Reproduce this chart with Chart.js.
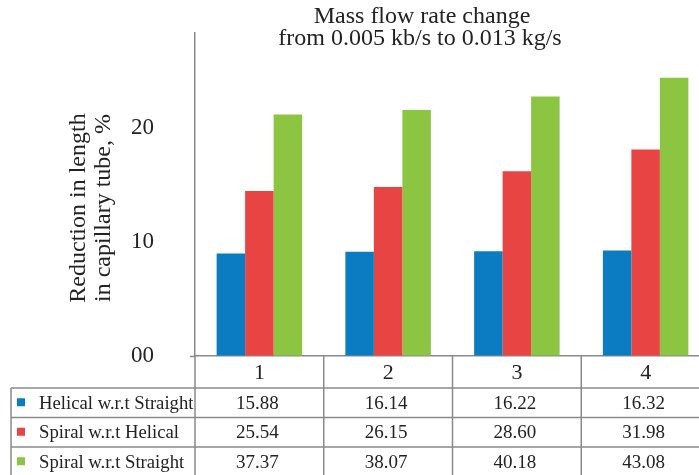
<!DOCTYPE html>
<html>
<head>
<meta charset="utf-8">
<script src="https://cdn.jsdelivr.net/npm/chart.js@4/dist/chart.umd.min.js"></script>
<style>
  html, body { margin: 0; padding: 0; background: #fff; overflow: hidden; }
  #wrap { width: 712px; height: 475px; }
</style>
</head>
<body>
<div id="wrap"><canvas id="c" width="712" height="475"></canvas></div>
<script>
// Mass flow rate cases
const categories = ['1', '2', '3', '4'];

// Reduction in capillary tube length, %
const helicalVsStraight = [15.88, 16.14, 16.22, 16.32];
const spiralVsHelical   = [25.54, 26.15, 28.60, 31.98];
const spiralVsStraight  = [37.37, 38.07, 40.18, 43.08];

const seriesNames = ['Helical w.r.t Straight', 'Spiral w.r.t Helical', 'Spiral w.r.t Straight'];
const seriesColors = ['#0b7cc2', '#e84444', '#8cc541'];

// Axis tick marks and the printed axis labels
const yTickMarks = [0, 10, 20, 30, 40, 50];
const yTickLabels = ['00', '10', '20'];
const yTickLabelValues = [0, 17.6, 35.3];

const titleLines = ['Mass flow rate change', 'from 0.005 kb/s to 0.013 kg/s'];
const yTitleLines = ['Reduction in length', 'in capillary tube, %'];

const SERIF = "'Liberation Serif', 'Times New Roman', serif";
const LINE = '#8a8a8a';
const TEXT = '#222';

const seriesData = [helicalVsStraight, spiralVsHelical, spiralVsStraight];

// Titles drawn over the plot
const titlesPlugin = {
  id: 'titles',
  afterDraw(chart) {
    const ctx = chart.ctx;
    ctx.save();
    ctx.fillStyle = TEXT;
    ctx.font = '24px ' + SERIF;
    ctx.textAlign = 'center';
    ctx.textBaseline = 'alphabetic';
    ctx.fillText(titleLines[0], 422, 23);
    ctx.fillText(titleLines[1], 420, 45);

    ctx.translate(91, 208);
    ctx.rotate(-Math.PI / 2);
    ctx.textBaseline = 'middle';
    ctx.fillText(yTitleLines[0], 0, -12);
    ctx.fillText(yTitleLines[1], 0, 13);
    ctx.restore();
  }
};

// Data table under the category axis
const tablePlugin = {
  id: 'dataTable',
  afterDraw(chart) {
    const ctx = chart.ctx;
    const x = chart.scales.x;
    const top = chart.chartArea.bottom;
    const colW = (x.right - x.left) / categories.length;
    const catRowH = 32;
    const rowH = 29.5;
    const rowsTop = top + catRowH;
    const tableLeft = 11;
    const bottom = rowsTop + rowH * seriesData.length;

    ctx.save();
    ctx.strokeStyle = LINE;
    ctx.lineWidth = 1.5;
    ctx.beginPath();
    // horizontal rules
    for (let r = 0; r <= seriesData.length; r++) {
      const y = rowsTop + r * rowH;
      ctx.moveTo(tableLeft, y);
      ctx.lineTo(chart.width, y);
    }
    // left border of the legend column
    ctx.moveTo(tableLeft, rowsTop);
    ctx.lineTo(tableLeft, bottom);
    // column dividers
    for (let i = 0; i <= categories.length; i++) {
      const cx = x.left + i * colW;
      ctx.moveTo(cx, top);
      ctx.lineTo(cx, bottom);
    }
    ctx.stroke();

    ctx.fillStyle = TEXT;
    ctx.textAlign = 'center';
    ctx.textBaseline = 'middle';
    ctx.font = '22px ' + SERIF;
    categories.forEach((c, i) => {
      ctx.fillText(c, x.getPixelForValue(i), top + catRowH / 2 + 1);
    });

    ctx.font = '19px ' + SERIF;
    seriesData.forEach((vals, r) => {
      const cy = rowsTop + r * rowH + rowH / 2;
      vals.forEach((v, i) => {
        ctx.fillText(v.toFixed(2), x.getPixelForValue(i) - 2, cy + 1);
      });
    });

    ctx.textAlign = 'left';
    ctx.font = '18.7px ' + SERIF;
    seriesNames.forEach((name, r) => {
      const cy = rowsTop + r * rowH + rowH / 2;
      ctx.fillStyle = seriesColors[r];
      ctx.fillRect(17, cy - 4.5, 8, 8);
      ctx.fillStyle = TEXT;
      ctx.fillText(name, 39, cy + 1);
    });
    ctx.restore();
  }
};

new Chart(document.getElementById('c'), {
  type: 'bar',
  data: {
    labels: categories,
    datasets: seriesData.map((d, i) => ({
      label: seriesNames[i],
      data: d,
      backgroundColor: seriesColors[i],
      borderWidth: 0,
      categoryPercentage: 0.664,
      barPercentage: 1.0
    }))
  },
  options: {
    responsive: false,
    animation: false,
    devicePixelRatio: 1,
    layout: { padding: { top: 33, right: 2, left: 0, bottom: 0 } },
    plugins: {
      legend: { display: false },
      title: { display: false },
      tooltip: { enabled: false }
    },
    scales: {
      x: {
        grid: { display: false },
        ticks: { display: false },
        border: { display: true, color: LINE, width: 1.5 },
        afterFit(scale) { scale.height = 119; }
      },
      y: {
        min: 0,
        max: 50,
        afterFit(scale) {
          scale.width = 195;
          scale.paddingTop = 0;
          scale.paddingBottom = 0;
        },
        afterBuildTicks(scale) {
          const vals = Array.from(new Set([...yTickMarks, ...yTickLabelValues])).sort((a, b) => a - b);
          scale.ticks = vals.map(v => ({ value: v }));
        },
        grid: {
          drawOnChartArea: false,
          drawTicks: true,
          tickLength: 5,
          tickWidth: 1.5,
          tickColor: (c) => (c.tick && yTickMarks.includes(c.tick.value)) ? LINE : 'rgba(0,0,0,0)'
        },
        border: { display: true, color: LINE, width: 1.5 },
        ticks: {
          padding: 36,
          color: TEXT,
          font: { family: SERIF, size: 23 },
          callback: (v) => {
            const k = yTickLabelValues.indexOf(v);
            return k >= 0 ? yTickLabels[k] : null;
          }
        }
      }
    }
  },
  plugins: [titlesPlugin, tablePlugin]
});
</script>
</body>
</html>
